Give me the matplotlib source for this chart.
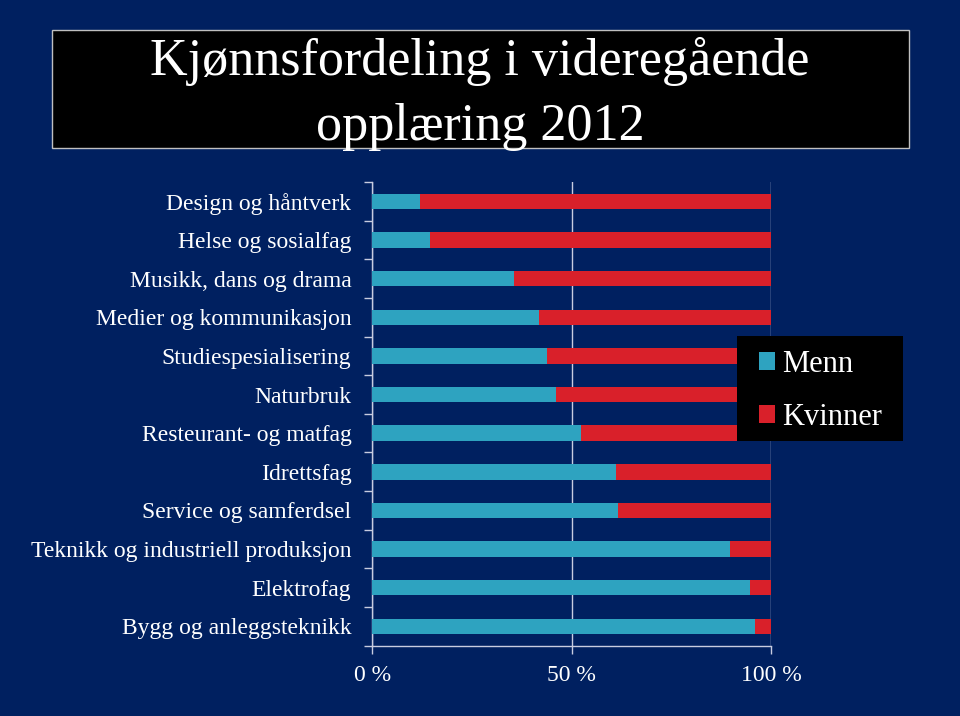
import matplotlib
matplotlib.use("Agg")
import matplotlib.pyplot as plt
from matplotlib.patches import Rectangle
import numpy as np

categories = [
    "Design og håntverk",
    "Helse og sosialfag",
    "Musikk, dans og drama",
    "Medier og kommunikasjon",
    "Studiespesialisering",
    "Naturbruk",
    "Resteurant- og matfag",
    "Idrettsfag",
    "Service og samferdsel",
    "Teknikk og industriell produksjon",
    "Elektrofag",
    "Bygg og anleggsteknikk",
]
menn = [11.9, 14.5, 35.5, 41.9, 43.8, 46.0, 52.4, 61.1, 61.6, 89.6, 94.7, 95.8]
kvinner = [100 - m for m in menn]
xticks = [0, 50, 100]
xticklabels = ["0 %", "50 %", "100 %"]
title_lines = ["Kjønnsfordeling i videregående", "opplæring 2012"]

BG = "#002060"
TEAL = "#2ea3c0"
RED = "#d9202a"
LINE = "#c8cce0"
FONT = "Liberation Serif"

W, H = 960, 716
fig = plt.figure(figsize=(W / 100, H / 100), dpi=100, facecolor=BG)

def fx(px):
    return px / W

def fy(py):
    return 1 - py / H

# title box
fig.patches.append(Rectangle((fx(52), fy(148)), fx(909) - fx(52), fy(30) - fy(148),
                             transform=fig.transFigure, facecolor="black",
                             edgecolor="#c0c0c0", linewidth=1, zorder=0))
fig.text(0.5, fy(75), title_lines[0], ha="center", va="baseline", color="white",
         fontsize=37.5, family=FONT)
fig.text(0.5, fy(140), title_lines[1], ha="center", va="baseline", color="white",
         fontsize=37.5, family=FONT, zorder=5)

ax_l, ax_r, ax_t, ax_b = 372.3, 771.3, 182, 645.7
ax = fig.add_axes([fx(ax_l), fy(ax_b), fx(ax_r) - fx(ax_l), fy(ax_t) - fy(ax_b)])
ax.set_facecolor(BG)

n = len(categories)
y = np.arange(n)[::-1]
ax.barh(y, menn, height=0.4, color=TEAL, label="Menn", zorder=3)
ax.barh(y, kvinner, left=menn, height=0.4, color=RED, label="Kvinner", zorder=3)

ax.set_xlim(0, 100)
ax.set_ylim(-0.5, n - 0.5)
ax.set_xticks(xticks)
ax.set_xticklabels(xticklabels, family=FONT, fontsize=17, color="white")
ax.set_yticks(y)
ax.set_yticklabels(categories, family=FONT, fontsize=17, color="white")
ax.set_yticks(np.arange(-0.5, n, 1.0), minor=True)
ax.tick_params(axis="y", which="major", length=0, pad=15)
ax.tick_params(axis="y", which="minor", length=6, color=LINE, width=1)
ax.tick_params(axis="x", which="major", length=6, color=LINE, width=1, pad=8)
for s in ["top", "right"]:
    ax.spines[s].set_visible(False)
for s in ["left", "bottom"]:
    ax.spines[s].set_color(LINE)
    ax.spines[s].set_linewidth(1)
ax.xaxis.grid(True, color=LINE, linewidth=1, zorder=1)
ax.set_axisbelow(True)

# legend box
fig.patches.append(Rectangle((fx(737), fy(441)), fx(903) - fx(737), fy(336) - fy(441),
                             transform=fig.transFigure, facecolor="black",
                             edgecolor="none", zorder=4))
leg = fig.legend(loc="center left", bbox_to_anchor=(fx(759), fy(391)),
                 prop={"family": FONT, "size": 22}, frameon=False,
                 handlelength=0.52, handleheight=0.52, handletextpad=0.24,
                 borderpad=0, labelspacing=0.78, borderaxespad=0)
leg.set_zorder(6)
for t in leg.get_texts():
    t.set_color("white")

fig.savefig("out.png", dpi=100, facecolor=BG)
